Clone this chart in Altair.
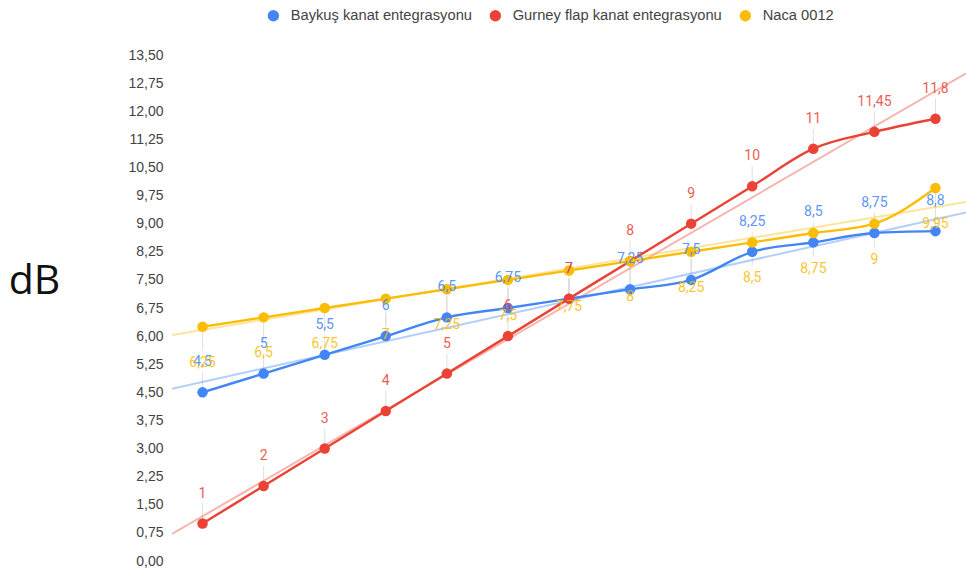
import altair as alt
import pandas as pd

# Measurement points along the x axis
points = list(range(1, 14))

# dB readings per wing configuration
baykus = [4.5, 5, 5.5, 6, 6.5, 6.75, 7, 7.25, 7.5, 8.25, 8.5, 8.75, 8.8]
gurney = [1, 2, 3, 4, 5, 6, 7, 8, 9, 10, 11, 11.45, 11.8]
naca = [6.25, 6.5, 6.75, 7, 7.25, 7.5, 7.75, 8, 8.25, 8.5, 8.75, 9, 9.95]

series_names = ["Baykuş kanat entegrasyonu", "Gurney flap kanat entegrasyonu", "Naca 0012"]
series_colors = ["#4285F4", "#EA4335", "#FBBC04"]

# y-axis tick values (0,00 ... 13,50 in steps of 0,75)
y_ticks = [i * 0.75 for i in range(19)]

rows = []
for name, vals in zip(series_names, [baykus, gurney, naca]):
    for x, v in zip(points, vals):
        rows.append({"x": x, "y": v, "series": name})
df = pd.DataFrame(rows)

legend = alt.Legend(
    title=None,
    orient="none",
    direction="horizontal",
    legendX=94,
    legendY=-47,
    symbolType="circle",
    symbolSize=130,
    symbolStrokeWidth=0,
    symbolOpacity=1,
    labelFont="Liberation Sans",
    labelFontSize=14.7,
    labelColor="#444444",
    labelLimit=400,
    labelOffset=10,
    columnPadding=16,
)
color = alt.Color(
    "series:N",
    scale=alt.Scale(domain=series_names, range=series_colors),
    legend=legend,
)

x_enc = alt.X("x:Q", scale=alt.Scale(domain=[0.5, 13.5], nice=False, zero=False), axis=None)
y_enc = alt.Y(
    "y:Q",
    scale=alt.Scale(domain=[0, 13.5], nice=False),
    axis=alt.Axis(
        values=y_ticks,
        labelExpr="replace(format(datum.value, '.2f'), '.', ',')",
        domain=False,
        ticks=False,
        grid=False,
        labelPadding=9,
        labelFont="Liberation Sans",
        labelFontSize=14,
        labelColor="#444444",
        title="dB",
        titleAngle=0,
        titleFont="Open Sans",
        titleFontSize=41,
        titleFontWeight="normal",
        titleColor="#111111",
        titleX=-138,
        titleY=226,
        titleAlign="center",
        titleBaseline="middle",
    ),
)

base = alt.Chart(df)

# linear trend per series across the whole x range
trend = base.transform_regression(
    "x", "y", groupby=["series"], extent=[0.5, 13.5]
).mark_line(strokeWidth=2, opacity=0.4, clip=True).encode(
    x=x_enc, y=y_enc, color=color
)

lines = base.mark_line(strokeWidth=2.4, interpolate="monotone").encode(
    x=x_enc, y=y_enc, color=color
)

dots = base.mark_circle(size=110, opacity=1).encode(
    x=x_enc, y=y_enc, color=color
)

labelled = base.transform_calculate(
    lbl="replace(toString(datum.y), '.', ',')"
)

above = labelled.transform_filter(alt.datum.series != "Naca 0012")
below = labelled.transform_filter(alt.datum.series == "Naca 0012")

lead_above = above.mark_rule(color="#cccccc", strokeWidth=1, opacity=0.6, y2Offset=-20).encode(
    x=x_enc, y=y_enc, y2=alt.Y2("y:Q")
)
lead_below = below.mark_rule(color="#cccccc", strokeWidth=1, opacity=0.6, y2Offset=24).encode(
    x=x_enc, y=y_enc, y2=alt.Y2("y:Q")
)

text_style = dict(font="Roboto", fontSize=14, opacity=0.85, align="center", baseline="middle")

text_above = above.mark_text(dy=-30, **text_style).encode(
    x=x_enc, y=y_enc, text="lbl:N", color=color,
)
text_below = below.mark_text(dy=36, **text_style).encode(
    x=x_enc, y=y_enc, text="lbl:N", color=color,
)

chart = alt.layer(
    lead_above, lead_below, trend, lines, dots, text_above, text_below
).properties(
    width=794,
    height=506,
    autosize=alt.AutoSizeParams(type="none"),
    padding={"left": 172, "top": 55, "right": 0, "bottom": 13},
).configure(background="white").configure_view(stroke=None)

chart.save("out.html", embed_options={"renderer": "svg", "actions": False})
